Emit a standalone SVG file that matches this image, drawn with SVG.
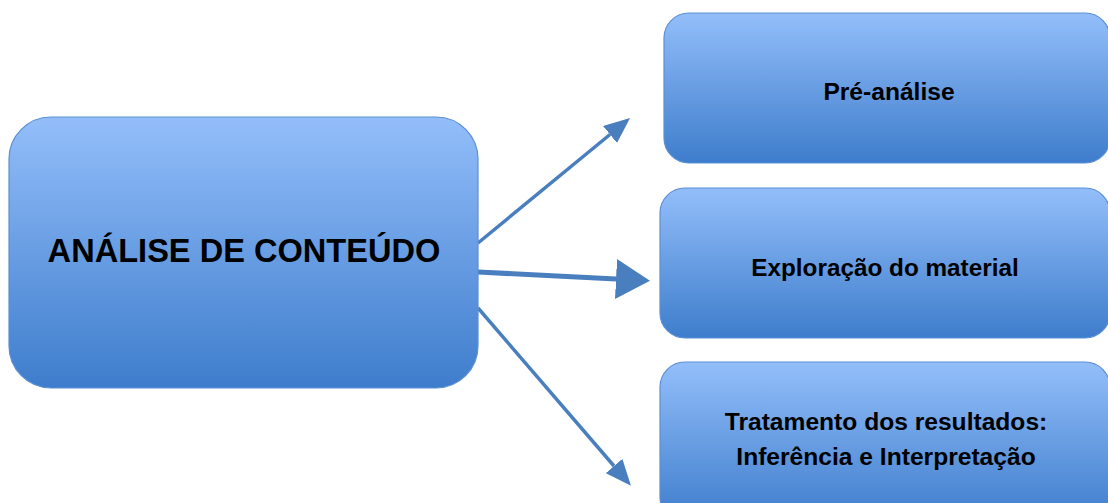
<svg xmlns="http://www.w3.org/2000/svg" width="1108" height="503" viewBox="0 0 1108 503">
  <defs>
    <linearGradient id="g" x1="0" y1="0" x2="0" y2="1">
      <stop offset="0" stop-color="#93befa"/>
      <stop offset="1" stop-color="#3e7dcc"/>
    </linearGradient>
    <marker id="ah" viewBox="0 0 26 22" refX="0" refY="11" markerWidth="26" markerHeight="22" markerUnits="userSpaceOnUse" orient="auto">
      <path d="M0,0 L26,11 L0,22 Z" fill="#4a7fbf"/>
    </marker>
    <marker id="ahb" viewBox="0 0 34 40" refX="0" refY="20" markerWidth="34" markerHeight="40" markerUnits="userSpaceOnUse" orient="auto">
      <path d="M0,0 L34,20 L0,40 Z" fill="#4a7fbf"/>
    </marker>
  </defs>
  <style>
    .box { fill: url(#g); stroke: #5b8fd4; stroke-width: 1.2; }
    .t { font-family: "Liberation Sans", Arial, sans-serif; font-weight: bold; fill: #000; text-anchor: middle; }
    .c { stroke: #4a7fbf; fill: none; }
  </style>
  <rect width="1108" height="503" fill="#ffffff"/>
  <g id="connectors">
    <line class="c" x1="478" y1="243" x2="610" y2="134.5" stroke-width="3.5" marker-end="url(#ah)"/>
    <line class="c" x1="478" y1="272" x2="616" y2="279" stroke-width="5" marker-end="url(#ahb)"/>
    <line class="c" x1="478" y1="308" x2="614" y2="466" stroke-width="3.5" marker-end="url(#ah)"/>
  </g>
  <g id="node-analise">
    <rect class="box" x="9" y="117" width="469" height="271" rx="42" ry="42"/>
    <text class="t" x="244" y="262" font-size="32.6">ANÁLISE DE CONTEÚDO</text>
  </g>
  <g id="node-pre">
    <rect class="box" x="664" y="13" width="446" height="150" rx="25" ry="25"/>
    <text class="t" x="889" y="100" font-size="24.6">Pré-análise</text>
  </g>
  <g id="node-exploracao">
    <rect class="box" x="660" y="188" width="450" height="150" rx="25" ry="25"/>
    <text class="t" x="885" y="276" font-size="24.3">Exploração do material</text>
  </g>
  <g id="node-tratamento">
    <rect class="box" x="660" y="362" width="450" height="160" rx="25" ry="25"/>
    <text class="t" x="886" y="430" font-size="24.6">Tratamento dos resultados:</text>
    <text class="t" x="886" y="465" font-size="24.6">Inferência e Interpretação</text>
  </g>
</svg>
